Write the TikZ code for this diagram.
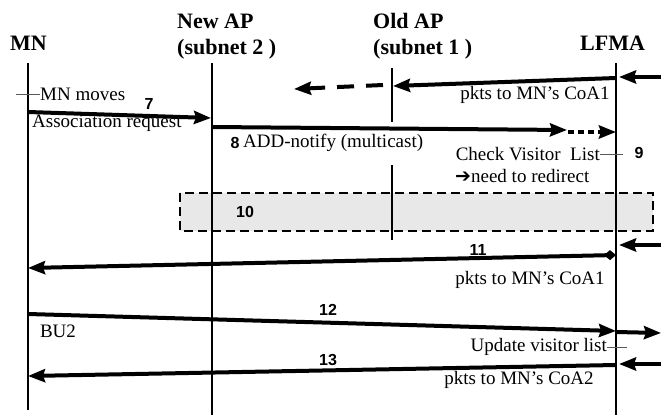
\documentclass[tikz,border=0pt]{standalone}
\usepackage{fontspec}
\setmainfont{Liberation Serif}
\newfontfamily\numfont{Liberation Sans}
\newfontfamily\symfont{DejaVu Sans}
\usetikzlibrary{arrows.meta}
\tikzset{
	lifeline/.style={line width=2pt},
	msg/.style={line width=4pt, -{Stealth[length=17pt,width=13pt,inset=2pt]}},
	title/.style={font=\fontsize{22}{24}\selectfont\bfseries, anchor=base west, inner sep=0pt},
	txt/.style={font=\fontsize{19}{21}\selectfont, inner sep=0pt},
	num/.style={font=\fontsize{16}{18}\selectfont\numfont\bfseries, inner sep=0pt},
	tick/.style={line width=0.8pt, color=black!65},
	redirectbox/.style={line width=1.5pt, dash pattern=on 9pt off 5pt, fill=black!9}
}

\begin{document}
\begin{tikzpicture}[x=1pt, y=-1pt]
		\useasboundingbox (0,0) rectangle (661,415);
		%%%%% START %%%%%
		
		\node[title] (mnT) at (10,50) {MN};
		\node[title] (napT) at (177,28) {New AP};
		\node[title] (napS) at (177,54) {(subnet 2 )};
		\node[title] (oapT) at (373,28) {Old AP};
		\node[title] (oapS) at (373,54) {(subnet 1 )};
		\node[title] (lfT) at (580,50) {LFMA};
		
		\draw[redirectbox] (180,193) rectangle (653,231);
		\node[num] (n10) at (245,212) {10};
		
		\coordinate (mn0) at (28,63);    \coordinate (mn1) at (28,410);
		\coordinate (nap0) at (212,63);  \coordinate (nap1) at (212,415);
		\coordinate (oap0) at (392,68);  \coordinate (oap1) at (392,122);
		\coordinate (oap2) at (392,165); \coordinate (oap3) at (392,240);
		\coordinate (lf0) at (616,63);   \coordinate (lf1) at (616,415);
		\draw[lifeline] (mn0) -- (mn1);
		\draw[lifeline] (nap0) -- (nap1);
		\draw[lifeline] (oap0) -- (oap1);
		\draw[lifeline] (oap2) -- (oap3);
		\draw[lifeline] (lf0) -- (lf1);
		
		% packets still going to the old AP
		\coordinate (in1a) at (661,77);  \coordinate (in1b) at (619,77);
		\coordinate (old1a) at (616,78); \coordinate (old1b) at (393,86);
		\coordinate (old2a) at (383,85); \coordinate (old2b) at (294,89);
		\draw[msg] (in1a) -- (in1b);
		\draw[msg] (old1a) -- (old1b);
		\draw[msg, dash pattern=on 17pt off 12pt] (old2a) -- (old2b);
		\node[txt] (pktsA) at (535,95) {pkts to MN’s CoA1};
		
		\node[txt, anchor=west] (moves) at (40,94) {MN moves};
		\draw[tick] (moves.west) -- ++(-24,0);
		
		\coordinate (m7a) at (28,112); \coordinate (m7b) at (211,118);
		\draw[msg] (m7a) -- (m7b);
		\node[num] (n7) at (149,104) {7};
		\node[txt, anchor=west] (assoc) at (32,123) {Association request};
		
		\coordinate (m8a) at (212,127); \coordinate (m8b) at (567,130);
		\coordinate (m8c) at (568,132); \coordinate (m8d) at (616,132);
		\draw[msg] (m8a) -- (m8b);
		\draw[msg, dash pattern=on 6pt off 4pt] (m8c) -- (m8d);
		\node[num] (n8) at (235,143) {8};
		\node[txt, anchor=west] (add) at (243,143) {ADD-notify (multicast)};
		
		\node[txt, anchor=east] (check) at (600,154) {Check Visitor\ \ List};
		\draw[tick] (check.east) -- ++(23,0);
		\node[num] (n9) at (639,153) {9};
		\node[txt, anchor=west] (redirect) at (455,176) {{\symfont\bfseries ➔}need to redirect};
		
		\coordinate (in2a) at (661,245);  \coordinate (in2b) at (619,245);
		\coordinate (m11a) at (616,255); \coordinate (m11b) at (28,268);
		\draw[msg] (in2a) -- (in2b);
		\draw[msg, {Diamond[length=12pt,width=10pt]}-{Stealth[length=17pt,width=13pt,inset=2pt]}] (m11a) -- (m11b);
		\node[num] (n11) at (478,250) {11};
		\node[txt] (pktsB) at (530,280) {pkts to MN’s CoA1};
		
		\coordinate (m12a) at (28,314);  \coordinate (m12b) at (616,331);
		\coordinate (out3a) at (616,332); \coordinate (out3b) at (661,333);
		\draw[msg] (m12a) -- (m12b);
		\draw[msg] (out3a) -- (out3b);
		\node[num] (n12) at (328,310) {12};
		\node[txt] (bu) at (58,331) {BU2};
		
		\node[txt, anchor=east] (update) at (607,347) {Update visitor list};
		\draw[tick] (update.east) -- ++(20,0);
		
		\coordinate (in4a) at (661,364);  \coordinate (in4b) at (619,364);
		\coordinate (m13a) at (616,365); \coordinate (m13b) at (28,376);
		\draw[msg] (in4a) -- (in4b);
		\draw[msg] (m13a) -- (m13b);
		\node[num] (n13) at (328,360) {13};
		\node[txt] (pktsC) at (519,380) {pkts to MN’s CoA2};
		
		%%%%% END %%%%%
	\end{tikzpicture}
\end{document}
